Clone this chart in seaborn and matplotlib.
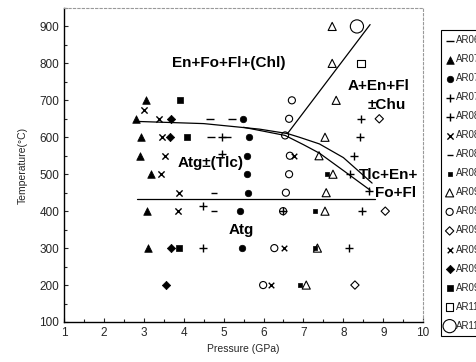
import pandas as pd
import seaborn as sns
import matplotlib.pyplot as plt

# sample names, marker styles
samples = ['AR064', 'AR071', 'AR074', 'AR079', 'AR083', 'AR086', 'AR087', 'AR089',
           'AR091', 'AR092', 'AR093', 'AR095', 'AR097', 'AR098', 'AR110', 'AR113']

# run conditions (pressure GPa, temperature C) per sample
p_AR064 = [4.66, 5.21, 4.68, 5.08]
t_AR064 = [650, 650, 600, 600]
p_AR071 = [3.05, 2.8, 2.93, 2.9, 3.18, 3.08, 3.1]
t_AR071 = [700, 650, 600, 550, 500, 400, 300]
p_AR074 = [5.49, 5.64, 5.59, 5.59, 5.61, 5.41, 5.47]
t_AR074 = [650, 600, 550, 500, 450, 400, 300]
p_AR079 = [4.96, 4.96, 4.48, 4.48, 6.49]
t_AR079 = [600, 555, 415, 300, 400]
p_AR083 = [8.44, 8.42, 8.27, 8.17, 8.64, 8.47, 8.15]
t_AR083 = [650, 600, 550, 500, 455, 400, 300]
p_AR086 = [3.0, 3.38, 3.46, 3.53, 3.43, 3.88, 3.86]
t_AR086 = [675, 650, 600, 550, 500, 450, 400]
p_AR087 = [4.77, 4.77]
t_AR087 = [450, 400]
p_AR089 = [7.59, 7.3, 7.28, 6.91]
t_AR089 = [500, 400, 300, 200]
p_AR091 = [7.72, 7.72, 7.82, 7.54, 7.39, 7.74, 7.57, 7.54, 7.35, 7.07]
t_AR091 = [900, 800, 700, 600, 550, 500, 450, 400, 300, 200]
p_AR092 = [6.71, 6.64, 6.54, 6.64, 6.56, 6.49, 6.27, 5.99, 6.66]
t_AR092 = [700, 650, 605, 500, 450, 400, 300, 200, 550]
p_AR093 = [8.9, 9.05, 8.29]
t_AR093 = [650, 400, 200]
p_AR095 = [6.76, 6.52, 6.19]
t_AR095 = [550, 300, 200]
p_AR097 = [3.68, 3.66, 3.68, 3.56]
t_AR097 = [650, 600, 300, 200]
p_AR098 = [3.9, 4.08, 3.88]
t_AR098 = [700, 600, 300]
p_AR110 = [8.44]
t_AR110 = [800]
p_AR113 = [8.34]
t_AR113 = [900]

# phase boundaries
atg_out_p = [2.8, 4.5, 5.9, 6.6, 6.9, 7.4, 8.0, 8.72]
atg_out_t = [643, 637, 622, 610, 600, 582, 545, 476]
tlc_out_p = [5.5, 6.54, 7.0, 7.4, 8.0, 8.67]
tlc_out_t = [627, 605, 580, 557, 510, 457]
en_p = [6.6, 8.67]
en_t = [610, 905]
atg_low_p = [2.83, 8.8]
atg_low_t = [433, 433]

points = {s: (globals()['p_' + s], globals()['t_' + s]) for s in samples}

# marker, filled?, size
styles = {
    'AR064': ('_', True, 30), 'AR071': ('^', True, 30), 'AR074': ('o', True, 22),
    'AR079': ('+', True, 30), 'AR083': ('+', True, 26), 'AR086': ('x', True, 20),
    'AR087': ('_', True, 14), 'AR089': ('s', True, 6), 'AR091': ('^', False, 34),
    'AR092': ('o', False, 26), 'AR093': ('D', False, 18), 'AR095': ('x', True, 16),
    'AR097': ('D', True, 18), 'AR098': ('s', True, 24), 'AR110': ('s', False, 30),
    'AR113': ('o', False, 90),
}

sns.set_style("ticks")
plt.rcParams['font.family'] = ['Liberation Sans', 'DejaVu Sans']

fig = plt.figure(figsize=(4.76, 3.62), dpi=100)
ax = fig.add_axes([0.1345, 0.1105, 0.7545, 0.8675])

for s in samples:
    m, filled, size = styles[s]
    df = pd.DataFrame({'P': points[s][0], 'T': points[s][1]})
    if m in ['_', '+', 'x']:
        sns.scatterplot(data=df, x='P', y='T', marker=m, s=size, color='black',
                        linewidth=1, label=s, ax=ax)
    elif filled:
        sns.scatterplot(data=df, x='P', y='T', marker=m, s=size, color='black',
                        edgecolor='black', linewidth=0.5, label=s, ax=ax)
    else:
        sns.scatterplot(data=df, x='P', y='T', marker=m, s=size, facecolor='none',
                        edgecolor='black', linewidth=0.8, label=s, ax=ax)

for px, ty in [(atg_out_p, atg_out_t), (tlc_out_p, tlc_out_t), (en_p, en_t), (atg_low_p, atg_low_t)]:
    sns.lineplot(x=px, y=ty, sort=False, estimator=None, color='black', linewidth=0.9, ax=ax)

# field labels
lab = dict(fontsize=11, fontweight='bold', color='black')
ax.text(5.13, 800, 'En+Fo+Fl+(Chl)', ha='center', va='center', **lab)
ax.text(8.1, 740, 'A+En+Fl', ha='left', va='center', **lab)
ax.text(8.6, 686, '±Chu', ha='left', va='center', **lab)
ax.text(3.85, 530, 'Atg±(Tlc)', ha='left', va='center', **lab)
ax.text(5.45, 348, 'Atg', ha='center', va='center', **lab)
ax.text(8.4, 497, 'Tlc+En+', ha='left', va='center', **lab)
ax.text(8.8, 448, 'Fo+Fl', ha='left', va='center', **lab)

ax.set_xlim(1, 10)
ax.set_ylim(100, 950)
ax.set_xticks(range(1, 11))
ax.set_xticks([x / 2 for x in range(2, 21)], minor=True)
ax.set_yticks(range(100, 1000, 100))
ax.set_yticks(range(100, 951, 50), minor=True)
ax.tick_params(which='both', direction='in', labelsize=8.5, length=3, width=0.8)
ax.tick_params(which='minor', length=2)
ax.set_xlabel('Pressure (GPa)', fontsize=7.5, labelpad=4)
ax.set_ylabel('Temperature(°C)', fontsize=7.5, labelpad=8)
for side in ['top', 'right']:
    ax.spines[side].set_visible(True)
    ax.spines[side].set_color('#999999')
    ax.spines[side].set_linestyle((0, (2, 2)))
    ax.spines[side].set_linewidth(0.8)
for side in ['left', 'bottom']:
    ax.spines[side].set_color('black')
    ax.spines[side].set_linewidth(1)

# legend runs off the right edge, as in the reference
leg = ax.legend(loc='upper left', bbox_to_anchor=(0.916, 0.93), bbox_transform=fig.transFigure,
                fontsize=7, frameon=True, fancybox=False, edgecolor='black', framealpha=1,
                labelspacing=0.93, handlelength=0.8, handletextpad=0.3, borderpad=0.5)
leg.get_frame().set_linewidth(0.8)

plt.savefig('out.png', dpi=100)
